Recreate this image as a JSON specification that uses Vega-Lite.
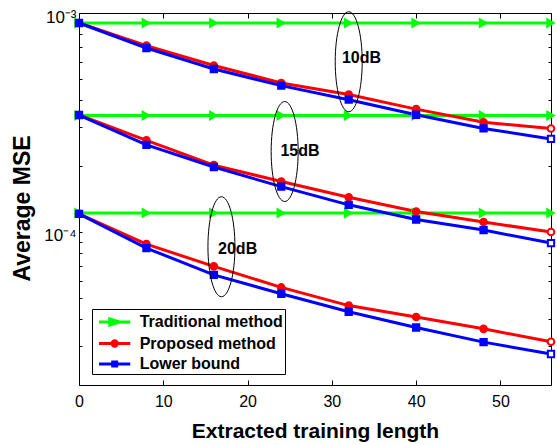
{
  "$schema": "https://vega.github.io/schema/vega-lite/v6.json",
  "width": 472,
  "height": 372,
  "autosize": {"type": "none"},
  "padding": {"left": 79, "top": 13, "right": 6, "bottom": 60},
  "background": "white",
  "config": {
    "view": {"stroke": "black", "strokeWidth": 1},
    "axis": {
      "grid": false, "domain": false,
      "labelFont": "Liberation Sans", "labelFontSize": 16, "labelColor": "black",
      "tickColor": "black", "tickWidth": 1,
      "titleFont": "Liberation Sans", "titleFontWeight": "bold", "titleColor": "black",
      "labelFlush": false, "labelOverlap": false
    }
  },
  "datasets": {
    "curves": [
      {"method": "Traditional method", "snr": "10dB", "x": 0, "mse": 0.0009},
      {"method": "Traditional method", "snr": "10dB", "x": 8, "mse": 0.0009},
      {"method": "Traditional method", "snr": "10dB", "x": 16, "mse": 0.0009},
      {"method": "Traditional method", "snr": "10dB", "x": 24, "mse": 0.0009},
      {"method": "Traditional method", "snr": "10dB", "x": 32, "mse": 0.0009},
      {"method": "Traditional method", "snr": "10dB", "x": 40, "mse": 0.0009},
      {"method": "Traditional method", "snr": "10dB", "x": 48, "mse": 0.0009},
      {"method": "Traditional method", "snr": "10dB", "x": 56, "mse": 0.0009},
      {"method": "Traditional method", "snr": "15dB", "x": 0, "mse": 0.00034},
      {"method": "Traditional method", "snr": "15dB", "x": 8, "mse": 0.00034},
      {"method": "Traditional method", "snr": "15dB", "x": 16, "mse": 0.00034},
      {"method": "Traditional method", "snr": "15dB", "x": 24, "mse": 0.00034},
      {"method": "Traditional method", "snr": "15dB", "x": 32, "mse": 0.00034},
      {"method": "Traditional method", "snr": "15dB", "x": 40, "mse": 0.00034},
      {"method": "Traditional method", "snr": "15dB", "x": 48, "mse": 0.00034},
      {"method": "Traditional method", "snr": "15dB", "x": 56, "mse": 0.00034},
      {"method": "Traditional method", "snr": "20dB", "x": 0, "mse": 0.000122},
      {"method": "Traditional method", "snr": "20dB", "x": 8, "mse": 0.000122},
      {"method": "Traditional method", "snr": "20dB", "x": 16, "mse": 0.000122},
      {"method": "Traditional method", "snr": "20dB", "x": 24, "mse": 0.000122},
      {"method": "Traditional method", "snr": "20dB", "x": 32, "mse": 0.000122},
      {"method": "Traditional method", "snr": "20dB", "x": 40, "mse": 0.000122},
      {"method": "Traditional method", "snr": "20dB", "x": 48, "mse": 0.000122},
      {"method": "Traditional method", "snr": "20dB", "x": 56, "mse": 0.000122},
      {"method": "Proposed method", "snr": "10dB", "x": 0, "mse": 0.0009},
      {"method": "Proposed method", "snr": "10dB", "x": 8, "mse": 0.00071},
      {"method": "Proposed method", "snr": "10dB", "x": 16, "mse": 0.000576},
      {"method": "Proposed method", "snr": "10dB", "x": 24, "mse": 0.000479},
      {"method": "Proposed method", "snr": "10dB", "x": 32, "mse": 0.000424},
      {"method": "Proposed method", "snr": "10dB", "x": 40, "mse": 0.000364},
      {"method": "Proposed method", "snr": "10dB", "x": 48, "mse": 0.000317},
      {"method": "Proposed method", "snr": "10dB", "x": 56, "mse": 0.000297},
      {"method": "Proposed method", "snr": "15dB", "x": 0, "mse": 0.000342},
      {"method": "Proposed method", "snr": "15dB", "x": 8, "mse": 0.000262},
      {"method": "Proposed method", "snr": "15dB", "x": 16, "mse": 0.000202},
      {"method": "Proposed method", "snr": "15dB", "x": 24, "mse": 0.00017},
      {"method": "Proposed method", "snr": "15dB", "x": 32, "mse": 0.000144},
      {"method": "Proposed method", "snr": "15dB", "x": 40, "mse": 0.000124},
      {"method": "Proposed method", "snr": "15dB", "x": 48, "mse": 0.000111},
      {"method": "Proposed method", "snr": "15dB", "x": 56, "mse": 0.0001},
      {"method": "Proposed method", "snr": "20dB", "x": 0, "mse": 0.000121},
      {"method": "Proposed method", "snr": "20dB", "x": 8, "mse": 0.000088},
      {"method": "Proposed method", "snr": "20dB", "x": 16, "mse": 0.0000696},
      {"method": "Proposed method", "snr": "20dB", "x": 24, "mse": 0.0000558},
      {"method": "Proposed method", "snr": "20dB", "x": 32, "mse": 0.0000461},
      {"method": "Proposed method", "snr": "20dB", "x": 40, "mse": 0.0000409},
      {"method": "Proposed method", "snr": "20dB", "x": 48, "mse": 0.0000361},
      {"method": "Proposed method", "snr": "20dB", "x": 56, "mse": 0.0000315},
      {"method": "Lower bound", "snr": "10dB", "x": 0, "mse": 0.0009},
      {"method": "Lower bound", "snr": "10dB", "x": 8, "mse": 0.000692},
      {"method": "Lower bound", "snr": "10dB", "x": 16, "mse": 0.000555},
      {"method": "Lower bound", "snr": "10dB", "x": 24, "mse": 0.000466},
      {"method": "Lower bound", "snr": "10dB", "x": 32, "mse": 0.000402},
      {"method": "Lower bound", "snr": "10dB", "x": 40, "mse": 0.000343},
      {"method": "Lower bound", "snr": "10dB", "x": 48, "mse": 0.000297},
      {"method": "Lower bound", "snr": "10dB", "x": 56, "mse": 0.000266},
      {"method": "Lower bound", "snr": "15dB", "x": 0, "mse": 0.000342},
      {"method": "Lower bound", "snr": "15dB", "x": 8, "mse": 0.00025},
      {"method": "Lower bound", "snr": "15dB", "x": 16, "mse": 0.000198},
      {"method": "Lower bound", "snr": "15dB", "x": 24, "mse": 0.000161},
      {"method": "Lower bound", "snr": "15dB", "x": 32, "mse": 0.000133},
      {"method": "Lower bound", "snr": "15dB", "x": 40, "mse": 0.000114},
      {"method": "Lower bound", "snr": "15dB", "x": 48, "mse": 0.000102},
      {"method": "Lower bound", "snr": "15dB", "x": 56, "mse": 0.000089},
      {"method": "Lower bound", "snr": "20dB", "x": 0, "mse": 0.000121},
      {"method": "Lower bound", "snr": "20dB", "x": 8, "mse": 0.0000844},
      {"method": "Lower bound", "snr": "20dB", "x": 16, "mse": 0.0000637},
      {"method": "Lower bound", "snr": "20dB", "x": 24, "mse": 0.0000522},
      {"method": "Lower bound", "snr": "20dB", "x": 32, "mse": 0.0000432},
      {"method": "Lower bound", "snr": "20dB", "x": 40, "mse": 0.0000366},
      {"method": "Lower bound", "snr": "20dB", "x": 48, "mse": 0.0000314},
      {"method": "Lower bound", "snr": "20dB", "x": 56, "mse": 0.0000277}
    ],
    "notes": [
      {"label": "10dB", "ex": 32.0, "ey": 0.000599, "tx": 31.2, "ty": 0.000625},
      {"label": "15dB", "ex": 24.4, "ey": 0.000233, "tx": 23.9, "ty": 0.000235},
      {"label": "20dB", "ex": 16.9, "ey": 0.0000856, "tx": 16.5, "ty": 0.0000838}
    ]
  },
  "layer": [
    {
      "data": {"name": "curves"},
      "transform": [{"filter": "datum.method == 'Traditional method'"}],
      "mark": {"type": "line", "color": "#00FF00", "strokeWidth": 3},
      "encoding": {
        "x": {"field": "x", "type": "quantitative", "scale": {"domain": [0, 56], "nice": false, "zero": false},
          "axis": {"orient": "bottom", "values": [0, 10, 20, 30, 40, 50], "tickSize": -5, "labelPadding": 13.5,
            "title": "Extracted training length", "titleFontSize": 21, "titleY": 52, "titleBaseline": "alphabetic"}},
        "y": {"field": "mse", "type": "quantitative", "scale": {"type": "log", "domain": [0.00002, 0.001], "nice": false},
          "axis": {"orient": "left",
            "values": [0.00003, 0.00004, 0.00005, 0.00006, 0.00007, 0.00008, 0.00009, 0.0001, 0.0002, 0.0003, 0.0004, 0.0005, 0.0006, 0.0007, 0.0008, 0.0009, 0.001],
            "tickSize": -3, "labelPadding": 6, "labelOffset": 4, "labelFontSize": 17,
            "labelExpr": "datum.value >= 0.00099 ? '10⁻³' : (datum.value > 0.000099 && datum.value < 0.000101 ? '10⁻⁴' : '')",
            "title": "Average MSE", "titleFontSize": 23, "titleX": -49.5, "titleY": 195, "titleBaseline": "alphabetic", "titleAlign": "center"}},
        "detail": {"field": "snr"}
      }
    },
    {
      "data": {"name": "curves"},
      "transform": [{"filter": "datum.method == 'Proposed method'"}],
      "mark": {"type": "line", "color": "#FF0000", "strokeWidth": 3},
      "encoding": {
        "x": {"field": "x", "type": "quantitative", "scale": {"domain": [0, 56], "nice": false, "zero": false},
          "axis": {"orient": "top", "values": [0, 10, 20, 30, 40, 50], "tickSize": -5, "labels": false, "title": null}},
        "y": {"field": "mse", "type": "quantitative", "scale": {"type": "log", "domain": [0.00002, 0.001], "nice": false},
          "axis": {"orient": "right",
            "values": [0.00003, 0.00004, 0.00005, 0.00006, 0.00007, 0.00008, 0.00009, 0.0001, 0.0002, 0.0003, 0.0004, 0.0005, 0.0006, 0.0007, 0.0008, 0.0009, 0.001],
            "tickSize": -3, "labels": false, "title": null}},
        "detail": {"field": "snr"}
      }
    },
    {
      "data": {"name": "curves"},
      "transform": [{"filter": "datum.method == 'Lower bound'"}],
      "mark": {"type": "line", "color": "#0000FF", "strokeWidth": 3},
      "encoding": {
        "x": {"field": "x", "type": "quantitative", "axis": null},
        "y": {"field": "mse", "type": "quantitative", "axis": null},
        "detail": {"field": "snr"}
      }
    },
    {
      "data": {"name": "curves"},
      "transform": [{"filter": "datum.method == 'Traditional method'"}],
      "mark": {"type": "point", "shape": "triangle-right", "filled": true, "size": 120, "opacity": 1, "color": "#00FF00"},
      "encoding": {
        "x": {"field": "x", "type": "quantitative", "axis": null},
        "y": {"field": "mse", "type": "quantitative", "axis": null}
      }
    },
    {
      "data": {"name": "curves"},
      "transform": [{"filter": "datum.method == 'Proposed method'"}],
      "mark": {"type": "point", "shape": "circle", "filled": true, "size": 44, "opacity": 1, "stroke": "#FF0000", "strokeWidth": 2},
      "encoding": {
        "x": {"field": "x", "type": "quantitative", "axis": null},
        "y": {"field": "mse", "type": "quantitative", "axis": null},
        "fill": {"condition": {"test": "datum.x >= 56", "value": "white"}, "value": "#FF0000"}
      }
    },
    {
      "data": {"name": "curves"},
      "transform": [{"filter": "datum.method == 'Lower bound'"}],
      "mark": {"type": "point", "shape": "square", "filled": true, "size": 40, "opacity": 1, "stroke": "#0000FF", "strokeWidth": 2},
      "encoding": {
        "x": {"field": "x", "type": "quantitative", "axis": null},
        "y": {"field": "mse", "type": "quantitative", "axis": null},
        "fill": {"condition": {"test": "datum.x >= 56", "value": "white"}, "value": "#0000FF"}
      }
    },
    {
      "data": {"name": "notes"},
      "mark": {"type": "point", "shape": "M0,-1A0.27,1,0,1,1,0,1A0.27,1,0,1,1,0,-1Z", "size": 10000, "filled": false, "stroke": "black", "strokeWidth": 1, "opacity": 1},
      "encoding": {
        "x": {"field": "ex", "type": "quantitative", "axis": null},
        "y": {"field": "ey", "type": "quantitative", "axis": null}
      }
    },
    {
      "data": {"name": "notes"},
      "mark": {"type": "text", "font": "Liberation Sans", "fontWeight": "bold", "fontSize": 16, "align": "left", "baseline": "middle", "color": "black"},
      "encoding": {
        "x": {"field": "tx", "type": "quantitative", "axis": null},
        "y": {"field": "ty", "type": "quantitative", "axis": null},
        "text": {"field": "label"}
      }
    },
    {
      "data": {"name": "curves"},
      "transform": [{"filter": "false"}],
      "mark": {"type": "point", "filled": true, "opacity": 1},
      "encoding": {
        "x": {"field": "x", "type": "quantitative", "axis": null},
        "y": {"field": "mse", "type": "quantitative", "axis": null},
        "color": {"field": "method", "type": "nominal",
          "scale": {"domain": ["Traditional method", "Proposed method", "Lower bound"], "range": ["#00FF00", "#FF0000", "#0000FF"]},
          "legend": {"orient": "none", "legendX": 13, "legendY": 296, "title": null, "labelFont": "Liberation Sans", "labelFontSize": 16, "labelFontWeight": "bold", "labelColor": "black", "symbolSize": 361, "symbolStrokeWidth": 3, "labelOffset": 23.7, "padding": 2, "rowPadding": 0.5, "strokeColor": "black", "fillColor": "white", "cornerRadius": 0}},
        "stroke": {"field": "method", "type": "nominal",
          "scale": {"domain": ["Traditional method", "Proposed method", "Lower bound"], "range": ["#00FF00", "#FF0000", "#0000FF"]},
          "legend": {"orient": "none", "legendX": 13, "legendY": 296, "title": null, "labelFont": "Liberation Sans", "labelFontSize": 16, "labelFontWeight": "bold", "labelColor": "black", "symbolSize": 361, "symbolStrokeWidth": 3, "labelOffset": 23.7, "padding": 2, "rowPadding": 0.5, "strokeColor": "black", "fillColor": "white", "cornerRadius": 0}},
        "shape": {"field": "method", "type": "nominal",
          "scale": {"domain": ["Traditional method", "Proposed method", "Lower bound"],
            "range": ["M-0.63,0H2.66M0.5,-0.32L1.55,0L0.5,0.32Z", "M-0.63,0H2.66M1.3,0A0.28,0.28,0,1,1,0.74,0A0.28,0.28,0,1,1,1.3,0Z", "M-0.63,0H2.66M0.81,-0.21H1.23V0.21H0.81Z"]},
          "legend": {"orient": "none", "legendX": 13, "legendY": 296, "title": null, "labelFont": "Liberation Sans", "labelFontSize": 16, "labelFontWeight": "bold", "labelColor": "black", "symbolSize": 361, "symbolStrokeWidth": 3, "labelOffset": 23.7, "padding": 2, "rowPadding": 0.5, "strokeColor": "black", "fillColor": "white", "cornerRadius": 0}}
      }
    }
  ],
  "resolve": {"axis": {"x": "independent", "y": "independent"}}
}
